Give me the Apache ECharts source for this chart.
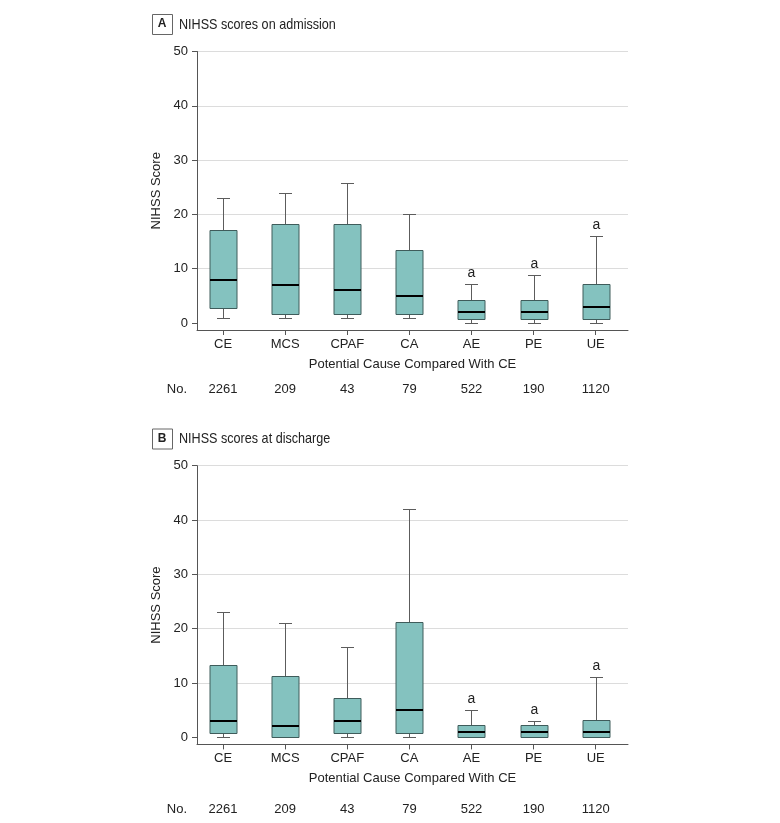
<!DOCTYPE html>
<html><head><meta charset="utf-8">
<script src="https://cdn.jsdelivr.net/npm/echarts@6/dist/echarts.min.js"></script>
<style>html,body{margin:0;padding:0;background:#fff}#c{width:780px;height:823px}</style>
</head><body><div id="c"></div>
<script>
// ---- data ----
const categories = ['CE', 'MCS', 'CPAF', 'CA', 'AE', 'PE', 'UE'];
const counts = ['2261', '209', '43', '79', '522', '190', '1120'];
const yTicks = [0, 10, 20, 30, 40, 50];
const catTicks = [0, 1, 2, 3, 4, 5, 6];

// A: NIHSS scores on admission
const admMin    = [1, 1, 1, 1, 0, 0, 0];
const admQ1     = [2.7, 1.7, 1.7, 1.7, 0.7, 0.7, 0.7];
const admMedian = [8, 7, 6, 5, 2, 2, 2.9];
const admQ3     = [17.2, 18.2, 18.2, 13.4, 4.2, 4.2, 7.1];
const admMax    = [23, 24, 25.8, 20, 7.1, 8.8, 16];
const admSig    = [0, 0, 0, 0, 1, 1, 1];

// B: NIHSS scores at discharge
const disMin    = [0, 0, 0, 0, 0, 0, 0];
const disQ1     = [0.75, 0, 0.75, 0.75, 0, 0, 0];
const disMedian = [3, 2, 3, 5.1, 1, 1, 1];
const disQ3     = [13.25, 11.2, 7.2, 21.2, 2.3, 2.3, 3.1];
const disMax    = [23, 21, 16.6, 42, 5, 3, 11.1];
const disSig    = [0, 0, 0, 0, 1, 1, 1];

// ---- build ----
function rows(mn, q1, md, q3, mx, sig) {
  return categories.map((c, i) => [i, mn[i], q1[i], md[i], q3[i], mx[i], sig[i]]);
}
const FONT = "'Liberation Sans', Arial, sans-serif";
const TXT = '#222';
const AXC = '#555';

function crisp(v) { return Math.round(v) + 0.5; }

function renderBox(params, api) {
  const x = api.value(0);
  const pMin = api.coord([x, api.value(1)]);
  const pQ1 = api.coord([x, api.value(2)]);
  const pMed = api.coord([x, api.value(3)]);
  const pQ3 = api.coord([x, api.value(4)]);
  const pMax = api.coord([x, api.value(5)]);
  const cx = crisp(pMed[0]);
  const hw = 13.5, cw = 6.5;
  const wStyle = { stroke: '#5c5c5c', lineWidth: 1 };
  const yMax = crisp(pMax[1]), yMin = crisp(pMin[1]);
  const yQ3 = crisp(pQ3[1]), yQ1 = crisp(pQ1[1]);
  const children = [
    { type: 'line', shape: { x1: cx, y1: yMax, x2: cx, y2: yQ3 }, style: wStyle },
    { type: 'line', shape: { x1: cx - cw, y1: yMax, x2: cx + cw, y2: yMax }, style: wStyle },
    { type: 'line', shape: { x1: cx, y1: yQ1, x2: cx, y2: yMin }, style: wStyle },
    { type: 'line', shape: { x1: cx - cw, y1: yMin, x2: cx + cw, y2: yMin }, style: wStyle },
    { type: 'rect', shape: { x: cx - hw, y: yQ3, width: 2 * hw, height: yQ1 - yQ3 },
      style: { fill: '#84c2bf', stroke: '#3f5c5b', lineWidth: 1 } },
    { type: 'line', shape: { x1: cx - hw, y1: Math.round(pMed[1]), x2: cx + hw, y2: Math.round(pMed[1]) },
      style: { stroke: '#000', lineWidth: 2 } }
  ];
  if (api.value(6)) {
    children.push({ type: 'text', x: cx, y: pMax[1] - 4,
      style: { text: 'a', textAlign: 'center', textVerticalAlign: 'bottom',
               font: '14px ' + FONT, fill: TXT } });
  }
  return { type: 'group', children };
}

const grids = [
  { left: 197, top: 51.5, width: 431, height: 278.5 },
  { left: 197, top: 465.7, width: 431, height: 278.7 }
];
const noOffsets = [53, 58.5];

const xAxes = [], yAxes = [], series = [];
[0, 1].forEach(g => {
  xAxes.push({
    type: 'value', gridIndex: g, min: -0.42, max: 6.52, position: 'bottom',
    axisLine: { show: true, onZero: false, lineStyle: { color: AXC, width: 1 } },
    axisTick: { show: true, customValues: catTicks, length: 5, lineStyle: { color: AXC } },
    axisLabel: { customValues: catTicks, formatter: v => categories[v], margin: 8,
                 color: TXT, fontSize: 13, fontFamily: FONT },
    splitLine: { show: false },
    name: 'Potential Cause Compared With CE', nameLocation: 'middle', nameGap: 28,
    nameTextStyle: { color: TXT, fontSize: 13, fontFamily: FONT }
  });
  xAxes.push({
    type: 'value', gridIndex: g, min: -0.42, max: 6.52, position: 'bottom', offset: noOffsets[g],
    axisLine: { show: false, onZero: false }, axisTick: { show: false },
    axisLabel: { customValues: catTicks, formatter: v => counts[v], margin: 0,
                 color: TXT, fontSize: 13, fontFamily: FONT },
    splitLine: { show: false },
    name: 'No.', nameLocation: 'start', nameGap: 10,
    nameTextStyle: { color: TXT, fontSize: 13, fontFamily: FONT, verticalAlign: 'top' }
  });
  yAxes.push({
    type: 'value', gridIndex: g, min: -1.3, max: 50, position: 'left',
    axisLine: { show: true, onZero: false, lineStyle: { color: AXC, width: 1 } },
    axisTick: { show: true, customValues: yTicks, length: 5, lineStyle: { color: AXC } },
    axisLabel: { customValues: yTicks, margin: 9, color: TXT, fontSize: 13, fontFamily: FONT },
    splitLine: { show: true, showMinLine: false, lineStyle: { color: '#dcdcdc', width: 1 } },
    name: 'NIHSS Score', nameLocation: 'middle', nameRotate: 90, nameGap: 31,
    nameTextStyle: { color: TXT, fontSize: 13, fontFamily: FONT }
  });
});

series.push({
  type: 'custom', xAxisIndex: 0, yAxisIndex: 0, renderItem: renderBox, clip: false,
  encode: { x: 0, y: [1, 2, 3, 4, 5] },
  data: rows(admMin, admQ1, admMedian, admQ3, admMax, admSig)
});
series.push({
  type: 'custom', xAxisIndex: 2, yAxisIndex: 1, renderItem: renderBox, clip: false,
  encode: { x: 0, y: [1, 2, 3, 4, 5] },
  data: rows(disMin, disQ1, disMedian, disQ3, disMax, disSig)
});

function titleGraphic(letter, text, cy) {
  return [
    { type: 'rect', left: 152, top: cy - 10, shape: { x: 0, y: 0, width: 20, height: 20 },
      style: { fill: '#fff', stroke: '#666', lineWidth: 1 } },
    { type: 'text', x: 162, y: cy, style: { text: letter, textAlign: 'center', textVerticalAlign: 'middle',
      font: 'bold 12px ' + FONT, fill: TXT } },
    { type: 'text', x: 179, y: cy + 0.5, scaleX: 0.84, style: { text: text, textAlign: 'left', textVerticalAlign: 'middle',
      font: '15px ' + FONT, fill: TXT } }
  ];
}

const chart = echarts.init(document.getElementById('c'), null, { renderer: 'canvas' });
chart.setOption({
  animation: false,
  backgroundColor: '#fff',
  textStyle: { fontFamily: FONT },
  grid: grids,
  xAxis: xAxes,
  yAxis: yAxes,
  series: series,
  graphic: titleGraphic('A', 'NIHSS scores on admission', 24)
    .concat(titleGraphic('B', 'NIHSS scores at discharge', 438.5))
});
</script></body></html>
